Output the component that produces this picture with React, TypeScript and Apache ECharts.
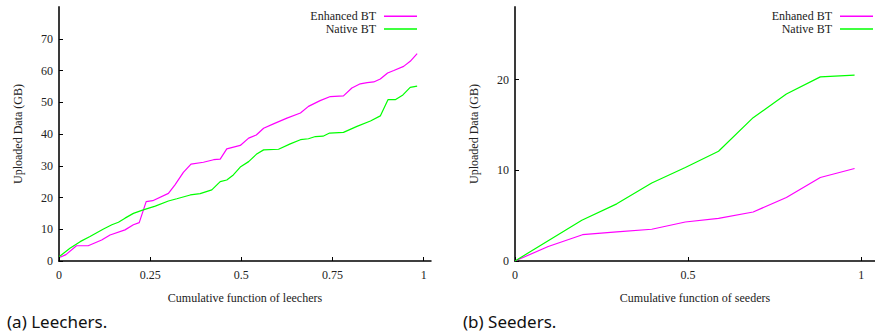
import React, { useEffect, useRef } from "react";
import * as echarts from "echarts";

// ---- Data ----
const leechEnhancedX = [0.003, 0.019, 0.048, 0.08, 0.117, 0.14, 0.181, 0.204, 0.22, 0.239, 0.257, 0.3, 0.318, 0.341, 0.362, 0.396, 0.424, 0.442, 0.46, 0.497, 0.52, 0.541, 0.561, 0.588, 0.625, 0.662, 0.684, 0.716, 0.744, 0.78, 0.803, 0.826, 0.845, 0.863, 0.881, 0.901, 0.918, 0.945, 0.963, 0.982];
const leechEnhancedY = [1.2, 2.0, 4.8, 4.8, 6.6, 8.2, 9.8, 11.4, 12.1, 18.7, 19.0, 21.3, 24.0, 27.9, 30.5, 31.1, 31.9, 32.1, 35.3, 36.4, 38.7, 39.7, 41.8, 43.2, 45.0, 46.6, 48.7, 50.5, 51.8, 52.0, 54.5, 55.8, 56.2, 56.4, 57.3, 59.2, 60.0, 61.3, 62.9, 65.3];

const leechNativeX = [0.001, 0.03, 0.058, 0.085, 0.122, 0.145, 0.163, 0.181, 0.204, 0.231, 0.264, 0.3, 0.323, 0.36, 0.387, 0.419, 0.442, 0.46, 0.478, 0.497, 0.52, 0.541, 0.561, 0.602, 0.634, 0.662, 0.684, 0.703, 0.724, 0.742, 0.78, 0.817, 0.854, 0.881, 0.902, 0.922, 0.943, 0.963, 0.982];
const leechNativeY = [1.4, 4.0, 6.1, 7.7, 10.1, 11.4, 12.2, 13.5, 15.0, 16.1, 17.3, 18.9, 19.6, 20.8, 21.2, 22.4, 25.0, 25.5, 27.1, 29.6, 31.3, 33.6, 35.0, 35.2, 36.9, 38.2, 38.5, 39.2, 39.3, 40.3, 40.5, 42.4, 44.1, 45.7, 50.8, 50.8, 52.3, 54.7, 55.1];

const seedEnhancedX = [0, 0.096, 0.195, 0.294, 0.395, 0.492, 0.588, 0.688, 0.784, 0.882, 0.981];
const seedEnhancedY = [0, 1.6, 2.9, 3.2, 3.5, 4.3, 4.7, 5.4, 7.0, 9.2, 10.2];

const seedNativeX = [0, 0.193, 0.294, 0.395, 0.492, 0.588, 0.688, 0.784, 0.882, 0.981];
const seedNativeY = [0, 4.5, 6.3, 8.6, 10.3, 12.1, 15.8, 18.4, 20.3, 20.5];

const leechXTicks = [0, 0.25, 0.5, 0.75, 1];
const leechYTicks = [0, 10, 20, 30, 40, 50, 60, 70];
const seedXTicks = [0, 0.5, 1];
const seedYTicks = [0, 10, 20];

const leechLegend = ["Enhanced BT", "Native BT"];
const seedLegend = ["Enhaned BT", "Native BT"];

const captions = ["(a) Leechers.", "(b) Seeders."];

const zip = (xs: number[], ys: number[]) => xs.map((x, i) => [x, ys[i]]);

const SERIF = "Liberation Serif";
const SANS = "Noto Sans";
const MAGENTA = "#ff00ff";
const GREEN = "#00ff00";

function xAxisCfg(gridIndex: number, max: number, ticks: number[], name: string) {
  return {
    type: "value",
    gridIndex,
    min: 0,
    max,
    name,
    nameLocation: "middle",
    nameGap: 31,
    nameTextStyle: { fontFamily: SERIF, fontSize: 12, color: "#222" },
    axisLine: { show: true, onZero: false, lineStyle: { color: "#000", width: 1.5 } },
    axisTick: { show: true, inside: true, length: 4, customValues: ticks, lineStyle: { color: "#000", width: 1 } },
    axisLabel: {
      customValues: ticks,
      margin: 8,
      fontFamily: SERIF,
      fontSize: 12,
      color: "#222",
      formatter: (v: number) => String(v),
    },
    splitLine: { show: false },
  };
}

function yAxisCfg(gridIndex: number, max: number, ticks: number[]) {
  return {
    type: "value",
    gridIndex,
    min: 0,
    max,
    name: "Uploaded Data (GB)",
    nameLocation: "middle",
    nameGap: 35,
    nameTextStyle: { fontFamily: SERIF, fontSize: 12, color: "#222" },
    axisLine: { show: true, onZero: false, lineStyle: { color: "#3a3a3a", width: 2 } },
    axisTick: { show: true, inside: true, length: 4, customValues: ticks, lineStyle: { color: "#000", width: 1 } },
    axisLabel: {
      customValues: ticks,
      margin: 6,
      fontFamily: SERIF,
      fontSize: 12,
      color: "#222",
    },
    splitLine: { show: false },
  };
}

function lineSeries(name: string, color: string, data: number[][], idx: number) {
  return {
    type: "line",
    name,
    xAxisIndex: idx,
    yAxisIndex: idx,
    data,
    color,
    showSymbol: false,
    symbol: "none",
    lineStyle: { color, width: 1.2 },
    itemStyle: { color },
  };
}

function legendCfg(data: string[], right: number) {
  return {
    data,
    orient: "vertical",
    right,
    top: 10,
    padding: 0,
    align: "right",
    icon: "rect",
    itemWidth: 33,
    itemHeight: 1.5,
    itemGap: 0,
    textStyle: { fontFamily: SERIF, fontSize: 12, color: "#222", lineHeight: 12.6, padding: [0, 3, 0, 0] },
  };
}

export default function App() {
  const ref = useRef<HTMLDivElement>(null);
  useEffect(() => {
    if (!ref.current) return;
    const chart = echarts.init(ref.current, null, { renderer: "svg" });
    chart.setOption({
      animation: false,
      backgroundColor: "#ffffff",
      grid: [
        { left: 59, top: 7, width: 372, height: 254 },
        { left: 515, top: 7, width: 360, height: 254 },
      ],
      xAxis: [
        xAxisCfg(0, 1.02, leechXTicks, "Cumulative function of leechers"),
        xAxisCfg(1, 1.04, seedXTicks, "Cumulative function of seeders"),
      ],
      yAxis: [yAxisCfg(0, 80, leechYTicks), yAxisCfg(1, 28, seedYTicks)],
      legend: [legendCfg(leechLegend, 458), legendCfg(seedLegend, 2)],
      series: [
        lineSeries(leechLegend[0], MAGENTA, zip(leechEnhancedX, leechEnhancedY), 0),
        lineSeries(leechLegend[1], GREEN, zip(leechNativeX, leechNativeY), 0),
        lineSeries(seedLegend[0], MAGENTA, zip(seedEnhancedX, seedEnhancedY), 1),
        lineSeries(seedLegend[1], GREEN, zip(seedNativeX, seedNativeY), 1),
      ],
      graphic: [
        {
          type: "text",
          left: 7,
          top: 313,
          style: { text: captions[0], font: `17px "${SANS}"`, fill: "#111" },
        },
        {
          type: "text",
          left: 463,
          top: 313,
          style: { text: captions[1], font: `17px "${SANS}"`, fill: "#111" },
        },
      ],
    });
    return () => chart.dispose();
  }, []);
  return (
    <div
      ref={ref}
      style={{ position: "fixed", left: 0, top: 0, width: 875, height: 335, background: "#fff" }}
    />
  );
}
